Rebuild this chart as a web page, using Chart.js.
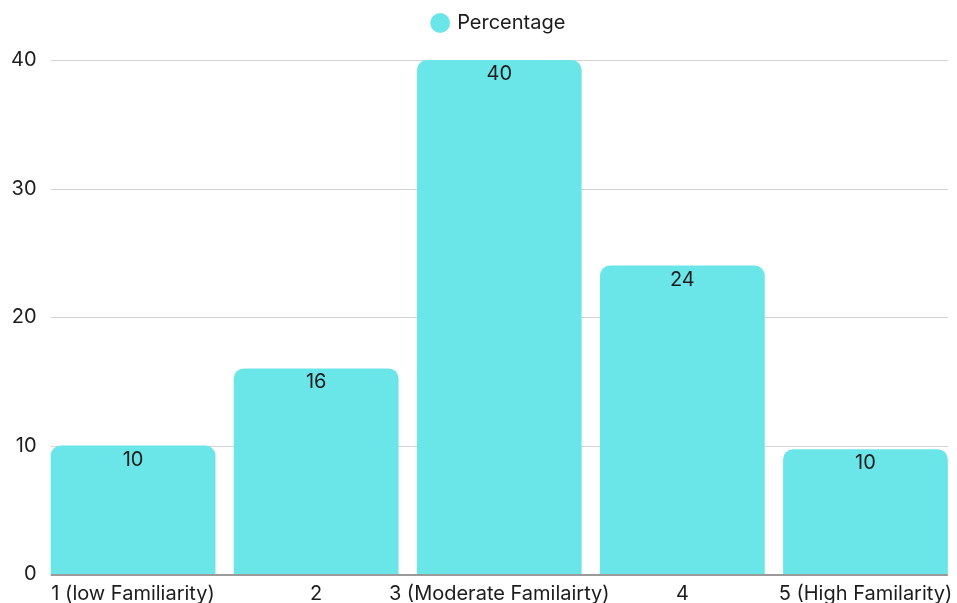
<!DOCTYPE html>
<html>
<head>
<meta charset="utf-8">
<script src="https://cdn.jsdelivr.net/npm/chart.js@4"></script>
<style>
  html, body { margin: 0; padding: 0; background: #fff; overflow: hidden; }
  #wrap { width: 957px; height: 603px; overflow: hidden; }
  #box { position: relative; width: 957px; height: 614px; }
</style>
</head>
<body>
<div id="wrap"><div id="box"><canvas id="chart"></canvas></div></div>
<script>
const categories = ["1 (low Familiarity)", "2", "3 (Moderate Familairty)", "4", "5 (High Familarity)"];
const percentages = [10, 16, 40, 24, 9.7];
const yTicks = [0, 10, 20, 30, 40];

const FONT = "Inter, 'Noto Sans', sans-serif";
const BAR = "#6ae5e8";
const TEXT = "#1c1c1c";

// extra room under the legend
const legendMargin = {
  id: "legendMargin",
  beforeInit(chart) {
    const fit = chart.legend.fit;
    chart.legend.fit = function () {
      fit.bind(chart.legend)();
      this.height += 17;
    };
  },
};

// grid lines only span from the first bar to the last bar
const barGrid = {
  id: "barGrid",
  beforeDatasetsDraw(chart) {
    const ctx = chart.ctx;
    const bars = chart.getDatasetMeta(0).data;
    const first = bars[0], last = bars[bars.length - 1];
    const x0 = first.x - first.width / 2;
    const x1 = last.x + last.width / 2;
    const y = chart.scales.y;
    ctx.save();
    yTicks.forEach((v) => {
      const py = Math.round(y.getPixelForValue(v));
      ctx.beginPath();
      if (v === 0) {
        ctx.strokeStyle = "#9a9a9a";
        ctx.lineWidth = 2;
        ctx.moveTo(x0, py + 1);
        ctx.lineTo(x1, py + 1);
      } else {
        ctx.strokeStyle = "#d4d4d4";
        ctx.lineWidth = 1;
        ctx.moveTo(x0, py + 0.5);
        ctx.lineTo(x1, py + 0.5);
      }
      ctx.stroke();
    });
    ctx.restore();
  },
};

// draw values just inside the top of each bar
const barValues = {
  id: "barValues",
  afterDatasetsDraw(chart) {
    const ctx = chart.ctx;
    const meta = chart.getDatasetMeta(0);
    ctx.save();
    ctx.font = "20px " + FONT;
    ctx.fillStyle = TEXT;
    ctx.textAlign = "center";
    ctx.textBaseline = "middle";
    meta.data.forEach((bar, i) => {
      ctx.fillText(Math.round(percentages[i]), bar.x, bar.y + 14);
    });
    ctx.restore();
  },
};

new Chart(document.getElementById("chart"), {
  type: "bar",
  data: {
    labels: categories,
    datasets: [{
      label: "Percentage",
      data: percentages,
      backgroundColor: BAR,
      borderRadius: 10,
      borderSkipped: "bottom",
      barPercentage: 0.9,
      categoryPercentage: 1,
    }],
  },
  options: {
    responsive: true,
    maintainAspectRatio: false,
    animation: false,
    layout: { padding: { left: 6, right: 0, top: 3, bottom: 0 } },
    plugins: {
      legend: {
        fullSize: false,
        labels: {
          usePointStyle: true,
          pointStyle: "circle",
          boxWidth: 14,
          boxHeight: 14,
          color: TEXT,
          font: { family: FONT, size: 20 },
          padding: 10,
        },
      },
      tooltip: { enabled: false },
    },
    scales: {
      x: {
        grid: { display: false, drawTicks: false },
        border: { display: false },
        afterFit(scale) {
          scale.paddingLeft = 0;
          scale.paddingRight = 0;
        },
        ticks: {
          color: TEXT,
          font: { family: FONT, size: 20 },
          padding: 8,
          maxRotation: 0,
          autoSkip: false,
        },
      },
      y: {
        min: 0,
        max: 40,
        afterBuildTicks: (axis) => { axis.ticks = yTicks.map((v) => ({ value: v })); },
        grid: { display: false, drawTicks: false },
        border: { display: false },
        ticks: {
          color: TEXT,
          font: { family: FONT, size: 20 },
          padding: 5,
        },
      },
    },
  },
  plugins: [legendMargin, barGrid, barValues],
});
</script>
</body>
</html>
